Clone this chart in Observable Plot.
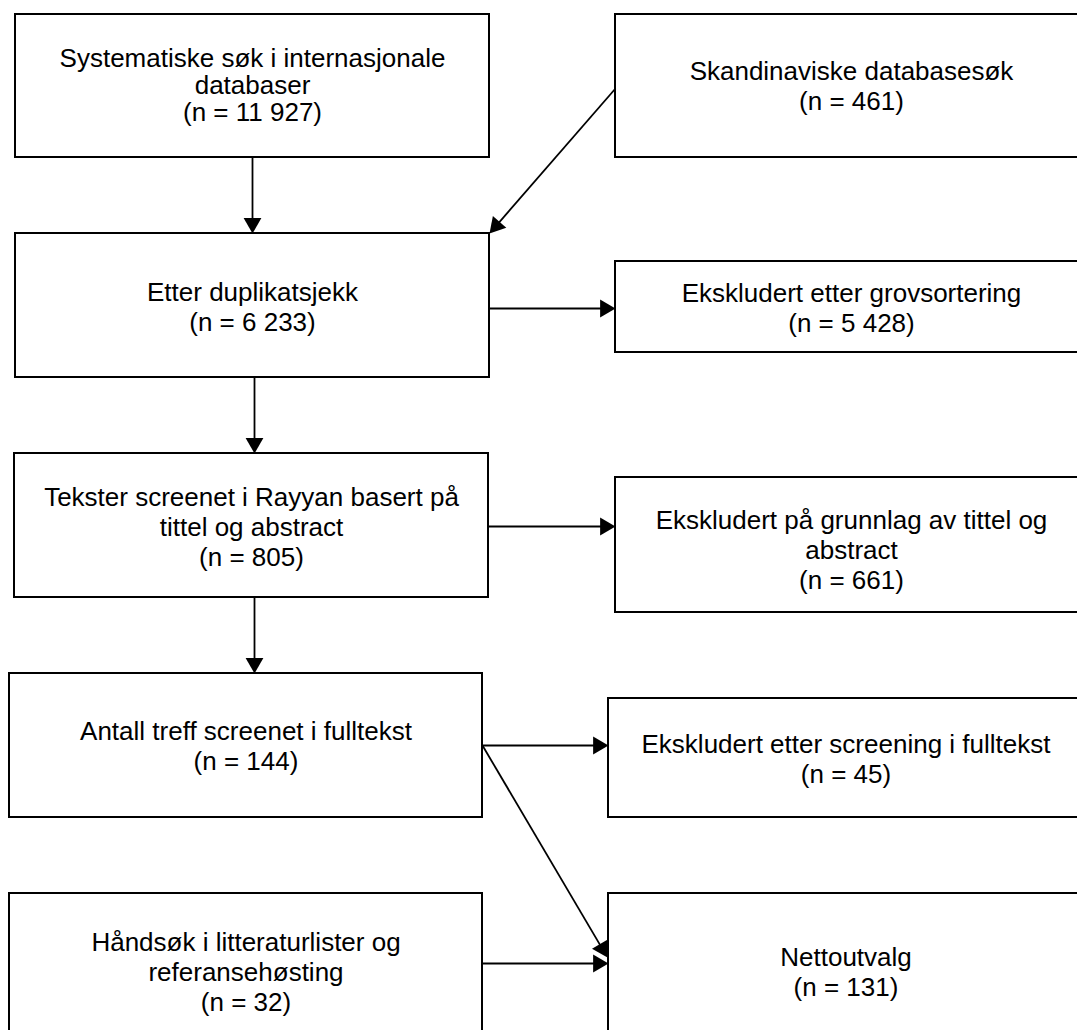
<!DOCTYPE html>
<html><head><meta charset="utf-8">
<script src="https://cdn.jsdelivr.net/npm/d3@7"></script>
<script src="https://cdn.jsdelivr.net/npm/@observablehq/plot@0.6"></script>
<style>
html,body{margin:0;padding:0;background:#fff;overflow:hidden;}
#chart svg{overflow:hidden;display:block;}
</style></head><body><div id="chart"></div>
<script>
// ---- content ----
const stageLabels = [
  "Systematiske søk i internasjonale\ndatabaser",
  "Skandinaviske databasesøk",
  "Etter duplikatsjekk",
  "Ekskludert etter grovsortering",
  "Tekster screenet i Rayyan basert på\ntittel og abstract",
  "Ekskludert på grunnlag av tittel og\nabstract",
  "Antall treff screenet i fulltekst",
  "Ekskludert etter screening i fulltekst",
  "Håndsøk i litteraturlister og\nreferansehøsting",
  "Nettoutvalg"
];
const stageCounts = ["11 927", "461", "6 233", "5 428", "805", "661", "144", "45", "32", "131"];
const arrowFrom = [0, 1, 2, 2, 4, 4, 6, 6, 8];
const arrowTo   = [2, 2, 3, 4, 5, 6, 7, 9, 9];

// ---- layout (pixel frame) ----
const boxLeft   = [15, 615, 15, 615, 14, 615, 9, 608, 9, 608];
const boxRight  = [489, 1087, 489, 1087, 488, 1087, 482, 1083, 482, 1083];
const boxTop    = [14, 14, 233, 261, 453, 477, 673, 698, 893, 893];
const boxBottom = [157, 157, 377, 352, 597, 612, 817, 817, 1036, 1037];
const textMidY  = [85, 85, 306, 307, 526, 549, 745, 758, 971, 971];
const arrowX1 = [252, 615, 489, 254, 488, 254, 482, 482, 482];
const arrowY1 = [157, 88, 308, 377, 526, 597, 745, 745, 963];
const arrowX2 = [252, 489, 615, 254, 615, 254, 608, 607, 608];
const arrowY2 = [233, 233, 308, 453, 526, 673, 745, 957, 963];

const W = 1077, H = 1030;
const boxes = stageLabels.map((label, i) => ({
  label, count: stageCounts[i],
  text: label + "\n(n = " + stageCounts[i] + ")",
  x1: boxLeft[i], x2: boxRight[i], y1: boxTop[i], y2: boxBottom[i],
  cx: (boxLeft[i] + boxRight[i]) / 2, cy: textMidY[i]
}));

const headR = 6.6;
const k = Math.sqrt(Math.PI / (3 * Math.sqrt(3)));
const headOffset = 2 * headR * k;
const headLen = 3 * headR * k;
const arrows = arrowFrom.map((f, i) => {
  const dx = arrowX2[i] - arrowX1[i], dy = arrowY2[i] - arrowY1[i];
  const L = Math.hypot(dx, dy), ux = dx / L, uy = dy / L;
  return {
    from: f, to: arrowTo[i],
    x1: arrowX1[i], y1: arrowY1[i],
    sx: arrowX2[i] - ux * (headLen - 1), sy: arrowY2[i] - uy * (headLen - 1),
    hx: arrowX2[i] - ux * headOffset, hy: arrowY2[i] - uy * headOffset,
    rot: Math.atan2(dx, -dy) * 180 / Math.PI
  };
});

const font = "'Liberation Sans', Arial, Helvetica, sans-serif";
const chart = Plot.plot({
  width: W, height: H,
  margin: 0,
  x: {domain: [0, W], range: [0, W], axis: null},
  y: {domain: [0, H], range: [0, H], axis: null},
  style: {fontFamily: font, background: "#fff"},
  marks: [
    Plot.rect(boxes, {x1: "x1", x2: "x2", y1: "y1", y2: "y2", fill: "white", stroke: "black", strokeWidth: 2}),
    Plot.link(arrows, {x1: "x1", y1: "y1", x2: "sx", y2: "sy", stroke: "black", strokeWidth: 1.8}),
    Plot.dot(arrows, {x: "hx", y: "hy", symbol: "triangle", r: headR, fill: "black", stroke: "none", rotate: "rot"}),
    Plot.text(boxes.filter((d, i) => i === 0), {x: "cx", y: "cy", text: "text", fontSize: 26, lineHeight: 27/26, fill: "black", fontFamily: font}),
    Plot.text(boxes.filter((d, i) => i !== 0), {x: "cx", y: "cy", text: "text", fontSize: 26, lineHeight: 30/26, fill: "black", fontFamily: font})
  ]
});
document.getElementById("chart").appendChild(chart);
</script>
</body></html>
